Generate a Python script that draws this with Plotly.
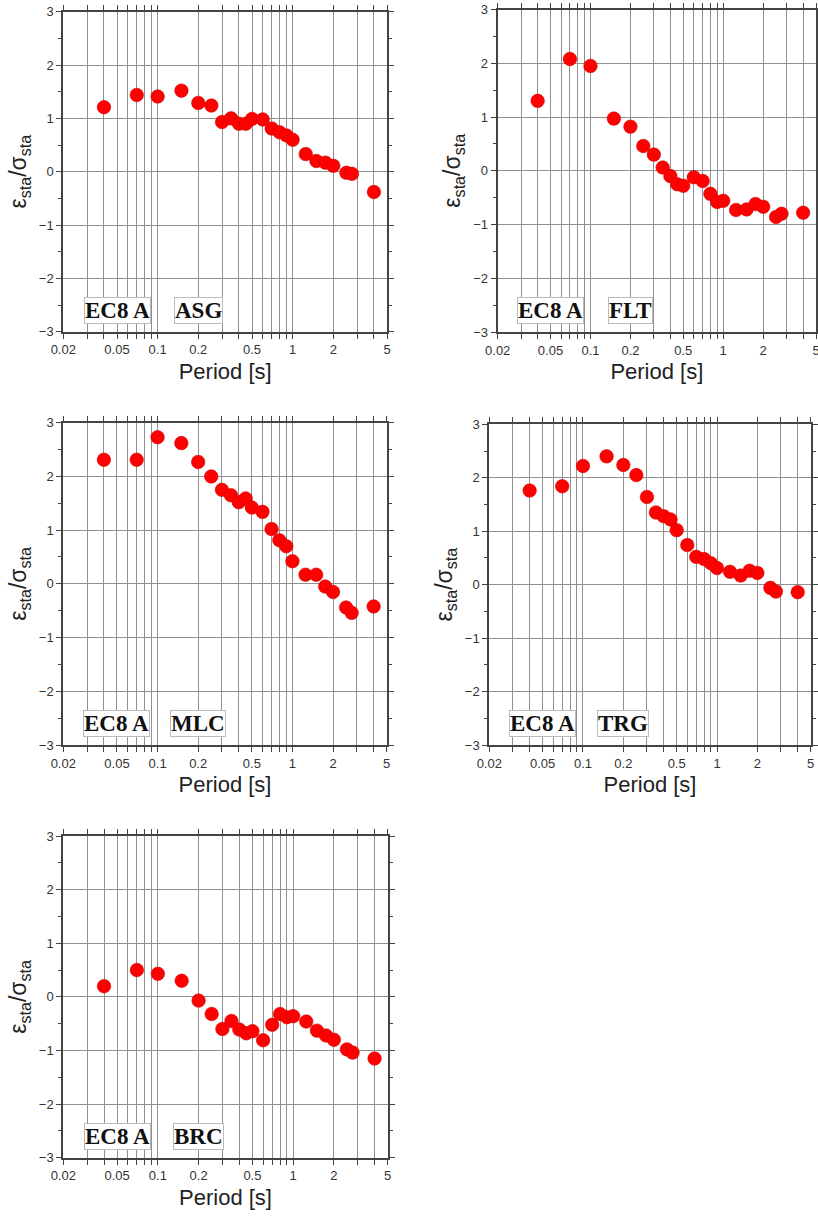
import math
import plotly.graph_objects as go

# ---------------- data ----------------
periods = [0.04, 0.07, 0.1, 0.15, 0.2, 0.25, 0.3, 0.35, 0.4, 0.45, 0.5, 0.6,
           0.7, 0.8, 0.9, 1.0, 1.25, 1.5, 1.75, 2.0, 2.5, 2.75, 4.0]

asg = [1.21, 1.44, 1.41, 1.52, 1.29, 1.24, 0.93, 1.00, 0.90, 0.90, 0.99, 0.98,
       0.81, 0.74, 0.68, 0.60, 0.33, 0.20, 0.17, 0.11, -0.02, -0.04, -0.38]
flt = [1.30, 2.08, 1.95, 0.97, 0.82, 0.46, 0.30, 0.06, -0.10, -0.25, -0.28, -0.12,
       -0.19, -0.43, -0.58, -0.56, -0.73, -0.72, -0.62, -0.67, -0.86, -0.80, -0.78]
mlc = [2.31, 2.31, 2.73, 2.62, 2.27, 2.00, 1.75, 1.65, 1.52, 1.59, 1.42, 1.34,
       1.02, 0.81, 0.70, 0.42, 0.17, 0.17, -0.05, -0.15, -0.44, -0.54, -0.42]
trg = [1.76, 1.84, 2.22, 2.40, 2.24, 2.05, 1.64, 1.35, 1.28, 1.22, 1.02, 0.74,
       0.52, 0.48, 0.40, 0.31, 0.24, 0.17, 0.26, 0.22, -0.06, -0.13, -0.14]
brc = [0.20, 0.50, 0.43, 0.30, -0.07, -0.32, -0.60, -0.45, -0.61, -0.68, -0.64, -0.81,
       -0.52, -0.32, -0.38, -0.36, -0.46, -0.63, -0.72, -0.80, -0.98, -1.04, -1.15]

stations = ["ASG", "FLT", "MLC", "TRG", "BRC"]
site_class = "EC8 A"
series = [asg, flt, mlc, trg, brc]

x_major = [0.02, 0.05, 0.1, 0.2, 0.5, 1, 2, 5]
x_major_text = ["0.02", "0.05", "0.1", "0.2", "0.5", "1", "2", "5"]
x_minor = [0.03, 0.04, 0.06, 0.07, 0.08, 0.09, 0.3, 0.4, 0.6, 0.7, 0.8, 0.9,
           3, 4]
y_range = [-3, 3]

# ---------------- layout (pixel boxes) ----------------
W, H = 818, 1219
# left, right, top, bottom in pixels
boxes = [
    (63.3, 387.0, 11.7, 331.7),
    (497.7, 816.0, 9.5, 332.0),
    (63.3, 386.7, 422.7, 745.0),
    (489.3, 810.7, 424.3, 745.0),
    (63.3, 387.7, 836.0, 1157.7),
]

FRAME = "#444444"
GRID = "#909090"
FONT = "Liberation Sans, Arial, sans-serif"

fig = go.Figure()
layout = dict(
    width=W, height=H,
    margin=dict(l=0, r=0, t=0, b=0),
    paper_bgcolor="white", plot_bgcolor="white",
    showlegend=False,
    font=dict(family=FONT, color="#222"),
)
annotations = []

for i, (name, vals, box) in enumerate(zip(stations, series, boxes)):
    n = "" if i == 0 else str(i + 1)
    xa, ya = "x" + n, "y" + n
    l, r, t, b = box
    fig.add_trace(go.Scatter(
        x=periods, y=vals, mode="markers", xaxis=xa, yaxis=ya,
        marker=dict(size=13.5, color="#ff0000", line=dict(width=0.6, color="#d00000")),
        hoverinfo="x+y",
    ))
    layout["xaxis" + n] = dict(
        type="log", domain=[l / W, min(r / W, 1.0)], anchor=ya,
        range=[math.log10(0.02), math.log10(5)],
        tickmode="array", tickvals=x_major, ticktext=x_major_text,
        ticklabeloverflow="allow",
        showgrid=True, gridcolor=GRID, gridwidth=1,
        showline=True, linecolor=FRAME, linewidth=2, mirror="ticks",
        ticks="outside", ticklen=5, tickcolor=FRAME, tickwidth=1,
        tickfont=dict(size=13, color="#333", family=FONT),
        minor=dict(tickmode="array", tickvals=x_minor, showgrid=True,
                   gridcolor=GRID, gridwidth=1, ticks="outside", ticklen=5,
                   tickcolor=FRAME),
        zeroline=False, automargin=False,
        title=dict(text="Period [s]", font=dict(size=22, color="#222", family=FONT),
                   standoff=7),
    )
    layout["yaxis" + n] = dict(
        domain=[1 - b / H, 1 - t / H], anchor=xa,
        range=y_range, tickmode="linear", tick0=0, dtick=1,
        ticklabeloverflow="allow",
        showgrid=True, gridcolor=GRID, gridwidth=1,
        showline=True, linecolor=FRAME, linewidth=2, mirror="ticks",
        ticks="outside", ticklen=5, tickcolor=FRAME, tickwidth=1,
        tickfont=dict(size=13, color="#333", family=FONT),
        minor=dict(dtick=0.5, ticks="outside", ticklen=3, tickcolor=FRAME,
                   showgrid=False),
        zeroline=False, automargin=False,
        title=dict(text="ε<sub>sta</sub>/σ<sub>sta</sub>",
                   font=dict(size=23, color="#222", family=FONT), standoff=6),
    )
    for xv, txt in ((0.05, site_class), (0.2, name)):
        annotations.append(dict(
            xref=xa, yref=ya, x=math.log10(xv), y=-2.6,
            text="<b>" + txt + "</b>", showarrow=False,
            font=dict(family="Liberation Serif, Times New Roman, serif", size=23, color="#111"),
            bgcolor="white", bordercolor="#bbbbbb", borderwidth=1, borderpad=0,
        ))

layout["annotations"] = annotations
fig.update_layout(**layout)
fig.write_html("out.html")
